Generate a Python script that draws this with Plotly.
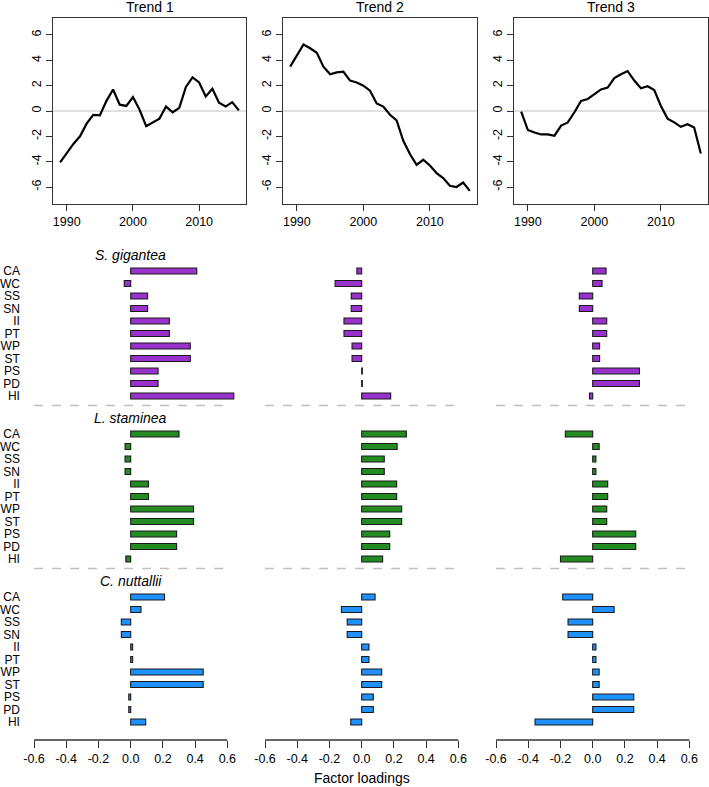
import plotly.graph_objects as go

# ---------------- data ----------------
years = list(range(1989, 2017))
trend1 = [-4.05, -3.3, -2.6, -2.0, -1.0, -0.3, -0.35, 0.8, 1.7, 0.5, 0.4, 1.1, 0.1, -1.2,
          -0.9, -0.6, 0.35, -0.1, 0.25, 1.9, 2.65, 2.25, 1.15, 1.75, 0.65, 0.35, 0.7, 0.05]
trend2 = [3.5, 4.4, 5.25, 4.95, 4.6, 3.5, 2.9, 3.05, 3.1, 2.4, 2.25, 2.0, 1.6, 0.6,
          0.35, -0.3, -0.75, -2.35, -3.4, -4.25, -3.85, -4.3, -4.9, -5.3, -5.9, -6.0, -5.65, -6.3]
trend3 = [-0.05, -1.5, -1.7, -1.85, -1.85, -1.95, -1.15, -0.9, -0.1, 0.8, 0.95, 1.35, 1.7, 1.85,
          2.6, 2.9, 3.15, 2.4, 1.8, 1.95, 1.65, 0.4, -0.6, -0.9, -1.25, -1.05, -1.3, -3.35]
trend_titles = ["Trend 1", "Trend 2", "Trend 3"]

sites = ["CA", "WC", "SS", "SN", "II", "PT", "WP", "ST", "PS", "PD", "HI"]
species = ["S. gigantea", "L. staminea", "C. nuttallii"]
species_colors = ["#9932CC", "#228B22", "#1E90FF"]

# loadings: species x trend
sg_t1 = [0.41, -0.04, 0.105, 0.105, 0.24, 0.24, 0.37, 0.37, 0.17, 0.17, 0.64]
sg_t2 = [-0.03, -0.165, -0.065, -0.065, -0.11, -0.11, -0.06, -0.06, 0.004, 0.004, 0.18]
sg_t3 = [0.083, 0.058, -0.083, -0.083, 0.087, 0.087, 0.043, 0.043, 0.29, 0.29, -0.02]
ls_t1 = [0.30, -0.035, -0.035, -0.035, 0.11, 0.11, 0.39, 0.39, 0.285, 0.285, -0.03]
ls_t2 = [0.277, 0.22, 0.14, 0.14, 0.217, 0.217, 0.248, 0.248, 0.174, 0.174, 0.13]
ls_t3 = [-0.17, 0.04, 0.02, 0.02, 0.093, 0.093, 0.087, 0.087, 0.267, 0.267, -0.2]
cn_t1 = [0.21, 0.064, -0.058, -0.058, 0.012, 0.012, 0.45, 0.45, -0.012, -0.012, 0.093]
cn_t2 = [0.083, -0.126, -0.09, -0.09, 0.045, 0.045, 0.124, 0.124, 0.072, 0.072, -0.068]
cn_t3 = [-0.186, 0.133, -0.153, -0.153, 0.02, 0.02, 0.04, 0.04, 0.255, 0.255, -0.358]

trend_ticks = [-6, -4, -2, 0, 2, 4, 6]
trend_ticktext = ["-6", "-4", "-2", "0", "2", "4", "6"]
year_ticks = [1990, 2000, 2010]
load_ticks = [-0.6, -0.4, -0.2, 0.0, 0.2, 0.4, 0.6]
load_ticktext = ["-0.6", "-0.4", "-0.2", "0.0", "0.2", "0.4", "0.6"]
xlabel = "Factor loadings"

# ---------------- layout helpers ----------------
W, H = 709, 787
FONT = "Liberation Sans, Arial, sans-serif"


def fx(px):
    return px / W


def fy(py):
    return 1 - py / H


trends = [trend1, trend2, trend3]
loadings = [[sg_t1, sg_t2, sg_t3], [ls_t1, ls_t2, ls_t3], [cn_t1, cn_t2, cn_t3]]

top_x = [(53, 246), (283, 477), (514, 708)]
top_y = (18, 204)
bar_zero = [130.7, 361.7, 592.7]
ppu = 161.1  # pixels per loading unit
xr = 0.648
row_step = 12.5
ca_y = [271, 434, 597]
range_top = -1.3
range_bot = [10.76, 10.76, 11.44]

fig = go.Figure()
layout = dict(
    width=W, height=H, margin=dict(l=0, r=0, t=0, b=0, autoexpand=False),
    paper_bgcolor="white", plot_bgcolor="white", showlegend=False,
    font=dict(family=FONT, size=12, color="black"),
    shapes=[], annotations=[],
)


def axname(k):
    return ("", "") if k == 1 else (str(k), str(k))


# top trend panels
for c in range(3):
    k = c + 1
    xs, ys = axname(k)
    fig.add_trace(go.Scatter(x=years, y=trends[c], mode="lines",
                             line=dict(color="black", width=2.2),
                             xaxis="x" + xs, yaxis="y" + ys, hoverinfo="skip"))
    layout["xaxis" + xs] = dict(
        domain=[fx(top_x[c][0]), fx(top_x[c][1])], anchor="y" + ys,
        range=[1987.92, 2017.08], tickvals=year_ticks, ticks="outside", ticklen=6,
        tickcolor="#333", showline=True, mirror=True, linecolor="#333", linewidth=1.3,
        showgrid=False, zeroline=False, tickfont=dict(size=12.5))
    layout["yaxis" + ys] = dict(
        domain=[fy(top_y[1]), fy(top_y[0])], anchor="x" + xs,
        range=[-7.34, 7.34], tickvals=trend_ticks, ticktext=trend_ticktext,
        tickangle=-90, ticks="outside", ticklen=6, tickcolor="#333",
        showline=True, mirror=True, linecolor="#333", linewidth=1.3,
        showgrid=False, zeroline=False, tickfont=dict(size=12.5))
    layout["shapes"].append(dict(type="line", xref="x" + xs + " domain", x0=0, x1=1,
                                 yref="y" + ys, y0=0, y1=0, layer="below",
                                 line=dict(color="#c0c0c0", width=1)))
    layout["annotations"].append(dict(text=trend_titles[c], x=fx((top_x[c][0] + top_x[c][1]) / 2),
                                      y=fy(7.5), xref="paper", yref="paper", showarrow=False,
                                      xanchor="center", yanchor="middle", font=dict(size=14)))

# loading bar panels
for g in range(3):
    ytop = ca_y[g] + range_top * row_step
    ybot = ca_y[g] + range_bot[g] * row_step
    for c in range(3):
        k = 4 + g * 3 + c
        xs, ys = axname(k)
        fig.add_trace(go.Bar(x=loadings[g][c], y=sites, orientation="h", width=0.47,
                             marker=dict(color=species_colors[g], line=dict(color="#1a1a1a", width=1.1)),
                             xaxis="x" + xs, yaxis="y" + ys, hoverinfo="skip"))
        x0 = bar_zero[c] - xr * ppu
        x1 = bar_zero[c] + xr * ppu
        last = (g == 2)
        layout["xaxis" + xs] = dict(
            domain=[fx(x0), fx(x1)], anchor="y" + ys, range=[-xr, xr],
            showgrid=False, zeroline=False, showline=False,
            tickvals=load_ticks if last else [], ticktext=load_ticktext if last else [],
            ticks="outside" if last else "", ticklen=7, tickcolor="#333",
            showticklabels=last, tickfont=dict(size=12.5))
        layout["yaxis" + ys] = dict(
            domain=[fy(ybot), fy(ytop)], anchor="x" + xs, type="category",
            categoryorder="array", categoryarray=sites,
            tickmode="array", tickvals=sites, ticktext=sites,
            range=[range_bot[g], range_top], showgrid=False, zeroline=False, showline=False,
            showticklabels=(c == 0), ticks="outside" if c == 0 else "", ticklen=3,
            tickcolor="rgba(0,0,0,0)", tickfont=dict(size=12))
        if last:
            layout["shapes"].append(dict(type="line", xref="x" + xs, x0=-0.6, x1=0.6,
                                         yref="paper", y0=fy(740), y1=fy(740),
                                         line=dict(color="#333", width=1.3)))
        else:
            dy = ca_y[g] + 10 * row_step + 9.5
            layout["shapes"].append(dict(type="line", xref="x" + xs, x0=-0.6, x1=0.6,
                                         yref="paper", y0=fy(dy), y1=fy(dy),
                                         line=dict(color="#c0c0c0", width=1.3, dash="dash")))
        if c == 0:
            layout["annotations"].append(dict(text="<i>" + species[g] + "</i>", x=0, y=fy(ca_y[g] - 16),
                                              xref="x" + xs, yref="paper", showarrow=False,
                                              xanchor="center", yanchor="middle", font=dict(size=14)))

layout["annotations"].append(dict(text=xlabel, x=fx(bar_zero[1]), y=fy(778), xref="paper", yref="paper",
                                  showarrow=False, xanchor="center", yanchor="middle",
                                  font=dict(size=14)))
layout["bargap"] = 0
fig.update_layout(**layout)
fig.write_html("out.html", config={"displayModeBar": False, "staticPlot": True},
               post_script="document.body.style.margin='0';document.body.style.overflow='hidden';")
